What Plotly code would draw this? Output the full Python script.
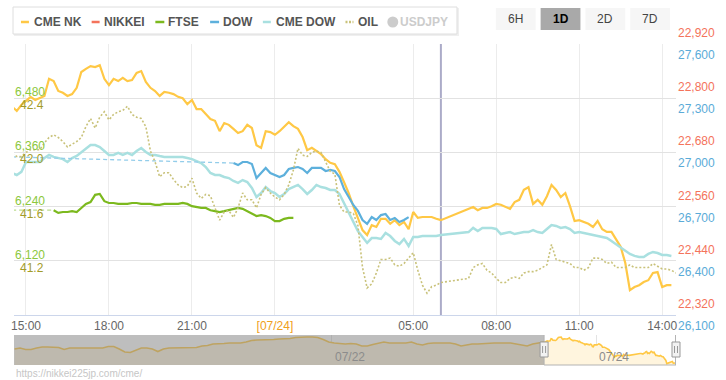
import pandas as pd
import plotly.graph_objects as go

# ---------------- data ----------------
T0 = "2020-07-23 14:30"
N = 145
times = pd.date_range(T0, periods=N, freq="10min")

CME_NK = [22781, 22772, 22785, 22794, 22803, 22796, 22800, 22805, 22843, 22838,
          22816, 22812, 22805, 22809, 22823, 22858, 22865, 22871, 22869, 22873,
          22843, 22829, 22843, 22838, 22845, 22838, 22840, 22856, 22860, 22836,
          22823, 22816, 22805, 22814, 22812, 22809, 22803, 22800, 22787, 22796,
          22776, 22776, 22765, 22754, 22750, 22727, 22745, 22741, 22732, 22723,
          22727, 22741, 22734, 22696, 22690, 22727, 22725, 22719, 22727, 22736,
          22747, 22738, 22732, 22714, 22685, 22690, 22683, 22676, 22665, 22657,
          22654, 22637, 22614, 22590, 22561, 22533, 22508, 22497, 22519, 22515,
          22533, 22533, 22522, 22530, 22519, 22526, 22510, 22548, 22535, 22537,
          22537, 22537, 22533, 22530, None, None, None, None, None, None,
          22559, 22552, 22557, 22557, 22561, 22566, 22564, 22559, 22555, 22570,
          22575, 22597, 22603, 22566, 22575, 22564, 22583, 22608, 22597, 22581,
          22590, 22561, 22528, 22530, 22526, 22522, 22515, 22528, 22510, 22504,
          22504, 22486, 22471, 22435, 22375, 22382, 22386, 22393, 22397, 22413,
          22415, 22382, 22386, 22386, None]

CME_DOW = [26886, 26875, 26892, 26947, 26947, 26947, 26947, 26969, 26986, 26975,
           26969, 26963, 26947, 26969, 26980, 27002, 27024, 27041, 27041, 27030,
           27008, 26986, 26986, 26997, 26986, 26997, 26986, 27008, 27024, 27002,
           26986, 26986, 26980, 26975, 26975, 26975, 26975, 26975, 26969, 26963,
           26952, 26941, 26919, 26886, 26875, 26875, 26864, 26858, 26842, 26831,
           26847, 26836, 26803, 26753, 26775, 26808, 26786, 26775, 26753, 26770,
           26797, 26808, 26820, 26797, 26770, 26792, 26820, 26808, 26803, 26792,
           26792, 26770, 26720, 26665, 26620, 26565, 26532, 26499, 26526, 26526,
           26521, 26554, 26537, 26510, 26493, 26521, 26482, 26532, 26532, 26537,
           26537, 26537, 26537, 26543, None, None, None, None, None, 26559,
           26582, 26565, 26582, 26582, 26582, 26576, 26548, 26554, 26559, 26548,
           26554, 26559, 26559, 26570, 26559, 26554, 26576, 26598, 26593, 26582,
           26587, 26576, 26554, 26559, 26554, 26548, 26543, 26537, 26532, 26526,
           26510, 26493, 26471, 26454, 26438, 26427, 26421, 26421, 26438, 26449,
           26443, 26432, 26432, 26427, None]

DOW_START = 48
DOW_VALS = [26941, 26930, 26947, 26947, 26936, 26858, 26886, 26914, 26886, 26875,
            26864, 26875, 26908, 26914, 26919, 26908, 26886, 26914, 26914, 26914,
            26897, 26903, 26897, 26864, 26797, 26753, 26709, 26676, 26626, 26604,
            26642, 26626, 26653, 26659, 26626, 26637, 26615, 26626, 26642]
DOW_PREV_CLOSE = 26975

FTSE_START = 9
FTSE_VALS = [6232, 6226, 6228, 6228, 6230, 6228, 6237, 6246, 6250, 6266,
             6268, 6252, 6248, 6248, 6246, 6246, 6246, 6248, 6248, 6246,
             6246, 6246, 6244, 6244, 6246, 6246, 6246, 6246, 6248, 6246,
             6241, 6239, 6237, 6237, 6232, 6230, 6228, 6230, 6232, 6235,
             6237, 6235, 6230, 6224, 6219, 6221, 6219, 6215, 6208, 6208,
             6213, 6215, 6215]
FTSE_PREV_CLOSE = 6232

OIL = [41.99, 41.97, 41.97, 42.00, 42.02, 42.02, 42.02, 42.07, 42.11, 42.13,
       42.11, 42.08, 42.04, 42.06, 42.08, 42.11, 42.19, 42.25, 42.18, 42.26,
       42.30, 42.24, 42.28, 42.30, 42.31, 42.34, 42.28, 42.26, 42.25, 42.19,
       42.01, 41.93, 41.82, 41.85, 41.85, 41.80, 41.76, 41.74, 41.75, 41.81,
       41.70, 41.66, 41.69, 41.68, 41.59, 41.50, 41.56, 41.57, 41.52, 41.59,
       41.70, 41.65, 41.65, 41.59, 41.69, 41.74, 41.70, 41.67, 41.65, 41.69,
       41.76, 41.87, 42.03, 41.98, 41.97, 42.00, 42.01, 42.00, 41.93, 41.86,
       41.84, 41.61, 41.56, 41.56, 41.55, 41.46, 41.15, 41.00, 41.03, 41.11,
       41.21, 41.21, 41.22, 41.17, 41.16, 41.18, 41.22, 41.26, 41.13, 41.02,
       40.96, 41.01, 41.02, 41.04, None, None, None, None, None, 41.07,
       41.15, 41.17, 41.18, 41.13, 41.11, 41.07, 41.04, 41.04, 41.07, 41.08,
       41.07, 41.11, 41.12, 41.12, 41.13, 41.15, 41.17, 41.32, 41.21, 41.20,
       41.19, 41.18, 41.15, 41.15, 41.13, 41.15, 41.22, 41.22, 41.21, 41.18,
       41.19, 41.15, 41.15, 41.15, 41.17, 41.15, 41.15, 41.15, 41.15, 41.18,
       41.16, 41.14, 41.14, 41.13, 41.11]

# navigator history (hourly, CME NK) before the displayed day
NAV_START = "2020-07-19 14:30"
NAV_HISTORY = [22649, 22668, 22640, 22640, 22668, 22687, 22687, 22687, 22678, 22640,
               22668, 22668, 22668, 22668, 22668, 22668, 22668, 22696, 22696, 22649,
               22593, 22584, 22631, 22668, 22668, 22649, 22602, 22649, 22668, 22668,
               22668, 22668, 22668, 22678, 22706, 22715, 22743, 22743, 22753, 22762,
               22762, 22762, 22781, 22809, 22819, 22819, 22819, 22828, 22837, 22837,
               22847, 22866, 22875, 22875, 22875, 22866, 22828, 22781, 22762, 22753,
               22743, 22753, 22743, 22706, 22706, 22734, 22762, 22781, 22762, 22762,
               22762, 22762, 22781, 22743, 22725, 22753, 22762, 22762, 22762, 22762,
               22743, 22706, 22725, 22743, 22743, 22753, 22762, 22762, 22762, 22762,
               22762, 22743, 22725, 22706, 22743, 22762]

NK_TICKS = [22320, 22440, 22560, 22680, 22800, 22920]
DOW_TICKS = [26100, 26400, 26700, 27000, 27300, 27600]
FTSE_TICKS = [6120, 6240, 6360, 6480]
OIL_TICKS = [41.2, 41.6, 42.0, 42.4]

X_TICK_TIMES = ["2020-07-23 15:00", "2020-07-23 18:00", "2020-07-23 21:00", "2020-07-24 00:00",
                "2020-07-24 05:00", "2020-07-24 08:00", "2020-07-24 11:00", "2020-07-24 14:00"]
X_TICK_LABELS = ["15:00", "18:00", "21:00", "[07/24]", "05:00", "08:00", "11:00", "14:00"]
DATE_LABEL = "[07/24]"
SESSION_LINE = "2020-07-24 06:00"

NAV_TICK_TIMES = ["2020-07-22 00:00", "2020-07-24 00:00"]
NAV_TICK_LABELS = ["07/22", "07/24"]

LEGEND_NAMES = ["CME NK", "NIKKEI", "FTSE", "DOW", "CME DOW", "OIL", "USDJPY"]
BUTTONS = ["6H", "1D", "2D", "7D"]
ACTIVE_BUTTON = "1D"
URL_TEXT = "https://nikkei225jp.com/cme/"

# ---------------- styling ----------------
C_NK = "#ffc845"
C_NIKKEI = "#f4735b"
C_FTSE = "#7cb91e"
C_DOW = "#5db0dc"
C_CMEDOW = "#a9e0e0"
C_OIL = "#c9c27a"
C_FTSE_LBL = "#8cc83c"
C_OIL_LBL = "#a39c28"
C_NK_LBL = "#f4735b"
C_DOW_LBL = "#5aabd8"
FONT = "Liberation Sans, Arial, sans-serif"

W, H = 726, 380
L, R, T, B = 11, 50, 44, 15
PW, PH = W - L - R, H - T - B


def fx(x):
    return (x - L) / PW


def fy(y):
    return (H - B - y) / PH


X_RANGE = ["2020-07-23 14:34", "2020-07-24 14:30"]
NAV_RANGE = ["2020-07-19 14:24", "2020-07-24 14:30"]

dow = [None] * DOW_START + DOW_VALS + [None] * (N - DOW_START - len(DOW_VALS))
ftse = [None] * FTSE_START + FTSE_VALS + [None] * (N - FTSE_START - len(FTSE_VALS))

fig = go.Figure()

fig.add_trace(go.Scatter(x=times, y=OIL, yaxis="y4", mode="lines", connectgaps=True,
                         line=dict(color=C_OIL, width=1.6, dash="2px,2px"), hoverinfo="skip"))
fig.add_trace(go.Scatter(x=times, y=CME_DOW, yaxis="y2", mode="lines", connectgaps=True,
                         line=dict(color=C_CMEDOW, width=2.5), hoverinfo="skip"))
fig.add_trace(go.Scatter(x=[times[0], times[DOW_START]], y=[DOW_PREV_CLOSE, DOW_VALS[0]], yaxis="y2",
                         mode="lines", line=dict(color="#93cdea", width=1.3, dash="4px,3px"), hoverinfo="skip"))
fig.add_trace(go.Scatter(x=times, y=dow, yaxis="y2", mode="lines",
                         line=dict(color=C_DOW, width=2.2), hoverinfo="skip"))
fig.add_trace(go.Scatter(x=[times[0], times[FTSE_START]], y=[FTSE_PREV_CLOSE, FTSE_VALS[0]], yaxis="y3",
                         mode="lines", line=dict(color="#bcdc90", width=1.3, dash="4px,3px"), hoverinfo="skip"))
fig.add_trace(go.Scatter(x=times, y=ftse, yaxis="y3", mode="lines",
                         line=dict(color=C_FTSE, width=2.2), hoverinfo="skip"))
fig.add_trace(go.Scatter(x=times, y=CME_NK, yaxis="y", mode="lines", connectgaps=True,
                         line=dict(color=C_NK, width=2.2), hoverinfo="skip"))

# navigator
nav_times = list(pd.date_range(NAV_START, periods=len(NAV_HISTORY), freq="h")) + list(times)
nav_vals = NAV_HISTORY + CME_NK
fig.add_trace(go.Scatter(x=nav_times, y=nav_vals, xaxis="x2", yaxis="y5", mode="lines",
                         connectgaps=True, fill="tozeroy", fillcolor="#fff5de",
                         line=dict(color=C_NK, width=1.6), hoverinfo="skip"))

shapes = []
annotations = []

# session separator
shapes.append(dict(type="line", xref="x", yref="y domain", x0=SESSION_LINE, x1=SESSION_LINE,
                   y0=0, y1=1, line=dict(color="#ababc8", width=2), layer="below"))

# axis tick labels
for v in NK_TICKS:
    annotations.append(dict(xref="paper", yref="y", x=fx(717), y=v, yshift=11, xanchor="right",
                            yanchor="middle", showarrow=False, text=f"{v:,}",
                            font=dict(size=12, color=C_NK_LBL, family=FONT)))
for v in DOW_TICKS:
    annotations.append(dict(xref="paper", yref="y2", x=fx(717), y=v, yshift=-11, xanchor="right",
                            yanchor="middle", showarrow=False, text=f"{v:,}",
                            font=dict(size=12, color=C_DOW_LBL, family=FONT)))
for v in FTSE_TICKS:
    annotations.append(dict(xref="paper", yref="y3", x=fx(10), y=v, yshift=6, xanchor="left",
                            yanchor="middle", showarrow=False, text=f"{v:,}",
                            font=dict(size=12, color=C_FTSE_LBL, family=FONT)))
for v in OIL_TICKS:
    annotations.append(dict(xref="paper", yref="y4", x=fx(15), y=v, yshift=-7, xanchor="left",
                            yanchor="middle", showarrow=False, text=f"{v:.1f}",
                            font=dict(size=12, color=C_OIL_LBL, family=FONT)))

# legend box
shapes.append(dict(type="rect", xref="paper", yref="paper", x0=fx(11), x1=fx(458), y0=fy(36), y1=fy(8),
                   fillcolor="#efefef", line=dict(width=0), layer="above"))
shapes.append(dict(type="rect", xref="paper", yref="paper", x0=fx(10), x1=fx(456), y0=fy(34), y1=fy(7),
                   fillcolor="#ffffff", line=dict(color="#dedede", width=1), layer="above"))
legend_layout = [  # (symbol x0, symbol x1, text x)
    (18, 26, 29), (89, 97, 99.5), (153, 162, 164), (208, 217, 219),
    (261, 269, 272), (344, 352, 355), (386, 397, 397)]
legend_colors = [C_NK, C_NIKKEI, C_FTSE, C_DOW, C_CMEDOW, C_OIL, "#cccccc"]
for i, name in enumerate(LEGEND_NAMES):
    s0, s1, tx = legend_layout[i]
    if name == "USDJPY":
        shapes.append(dict(type="circle", xref="paper", yref="paper", x0=fx(s0), x1=fx(s1),
                           y0=fy(27.5), y1=fy(16.5), fillcolor="#cccccc", line=dict(width=0),
                           layer="above"))
        txt_color = "#cccccc"
    else:
        dash = "2px,1.5px" if name == "OIL" else "solid"
        shapes.append(dict(type="line", xref="paper", yref="paper", x0=fx(s0), x1=fx(s1),
                           y0=fy(22), y1=fy(22), line=dict(color=legend_colors[i], width=2.5, dash=dash),
                           layer="above"))
        txt_color = "#555555"
    annotations.append(dict(xref="paper", yref="paper", x=fx(tx), y=fy(22), xanchor="left",
                            yanchor="middle", showarrow=False, text=f"<b>{name}</b>",
                            font=dict(size=12, color=txt_color, family=FONT)))

# range buttons
btn_x = [495, 540, 585, 630]
for bx, label in zip(btn_x, BUTTONS):
    active = label == ACTIVE_BUTTON
    shapes.append(dict(type="rect", xref="paper", yref="paper", x0=fx(bx), x1=fx(bx + 40),
                       y0=fy(30), y1=fy(8), fillcolor="#a9a9a9" if active else "#f6f6f6",
                       line=dict(width=0), layer="above"))
    annotations.append(dict(xref="paper", yref="paper", x=fx(bx + 20), y=fy(19), xanchor="center",
                            yanchor="middle", showarrow=False,
                            text=f"<b>{label}</b>" if active else label,
                            font=dict(size=12, color="#000000" if active else "#444444", family=FONT)))

# navigator mask, outline and handles
shapes.append(dict(type="rect", xref="x2", yref="y5 domain", x0=NAV_RANGE[0], x1=X_RANGE[0],
                   y0=0, y1=1, fillcolor="rgba(125,125,125,0.5)", line=dict(width=0), layer="above"))
outline = dict(color="#b3b3b3", width=1)
shapes.append(dict(type="line", xref="x2", yref="y5 domain", x0=X_RANGE[0], x1=X_RANGE[0], y0=0, y1=1,
                   line=outline, layer="above"))
shapes.append(dict(type="line", xref="paper", xsizemode="pixel", xanchor=1, x0=-0.5, x1=-0.5,
                   yref="paper", y0=fy(365), y1=fy(335), line=outline, layer="above"))
shapes.append(dict(type="line", xref="x2", yref="y5 domain", x0=X_RANGE[0], x1=X_RANGE[1], y0=0, y1=0,
                   line=outline, layer="above"))
# handles: left one in navigator axis units, right one pinned to the navigator's right edge (paper=1)
handle_refs = [dict(xref="x2", xanchor=X_RANGE[0]), dict(xref="paper", xanchor=1)]
for hr in handle_refs:
    shapes.append(dict(type="rect", xsizemode="pixel", x0=-4, x1=4,
                       yref="paper", y0=fy(357), y1=fy(342), fillcolor="#f2f2f2",
                       line=dict(color="#999999", width=1), layer="above", **hr))
    for dx in (-1.5, 1.5):
        shapes.append(dict(type="line", xsizemode="pixel", x0=dx, x1=dx,
                           yref="paper", y0=fy(353), y1=fy(346),
                           line=dict(color="#999999", width=1), layer="above", **hr))

for t, lab in zip(NAV_TICK_TIMES, NAV_TICK_LABELS):
    annotations.append(dict(xref="x2", yref="paper", x=t, y=fy(357), xanchor="left", xshift=1,
                            yanchor="middle", showarrow=False, text=lab,
                            font=dict(size=12, color="#8c8c8c", family=FONT)))

annotations.append(dict(xref="paper", yref="paper", x=fx(11), y=fy(373), xanchor="left",
                        yanchor="middle", showarrow=False, text=URL_TEXT,
                        font=dict(size=10, color="#c6c6c6", family=FONT)))

tick_text = [f'<span style="color:#f0a020">{t}</span>' if t == DATE_LABEL else t for t in X_TICK_LABELS]

fig.update_layout(
    width=W, height=H, autosize=False,
    margin=dict(l=L, r=R, t=T, b=B, pad=0),
    paper_bgcolor="#ffffff", plot_bgcolor="#ffffff",
    showlegend=False,
    font=dict(family=FONT, size=12, color="#666666"),
    xaxis=dict(domain=[0, 1], anchor="y", type="date", range=X_RANGE,
               tickmode="array", tickvals=X_TICK_TIMES, ticktext=tick_text,
               showgrid=True, gridcolor="#ececec", gridwidth=1,
               showline=True, linecolor="#ccd6eb", linewidth=1, ticks="",
               tickfont=dict(size=12, color="#666666", family=FONT), zeroline=False,
               fixedrange=True),
    yaxis=dict(domain=[fy(315), 1], anchor="x", range=[NK_TICKS[0], NK_TICKS[-1]],
               tickmode="array", tickvals=NK_TICKS, showticklabels=False,
               showgrid=True, gridcolor="#e2e2e2", gridwidth=1, zeroline=False, fixedrange=True),
    yaxis2=dict(overlaying="y", anchor="x", range=[DOW_TICKS[0], DOW_TICKS[-1]], visible=False,
                showgrid=False, zeroline=False),
    yaxis3=dict(overlaying="y", anchor="x", range=[6000, 6600], visible=False,
                showgrid=False, zeroline=False),
    yaxis4=dict(overlaying="y", anchor="x", range=[40.8, 42.8], visible=False,
                showgrid=False, zeroline=False),
    xaxis2=dict(domain=[0, 1], anchor="y5", type="date", range=NAV_RANGE,
                tickmode="array", tickvals=NAV_TICK_TIMES, showticklabels=False,
                showgrid=True, gridcolor="#e3e3e3", showline=False, zeroline=False, ticks=""),
    yaxis5=dict(domain=[0, fy(335)], anchor="x2", range=[22349, 22913], visible=False,
                showgrid=False, zeroline=False),
    shapes=shapes,
    annotations=annotations,
)

fig.write_html("out.html", config={"displayModeBar": False},
               post_script="document.body.style.margin='0';document.body.style.overflow='hidden';")
